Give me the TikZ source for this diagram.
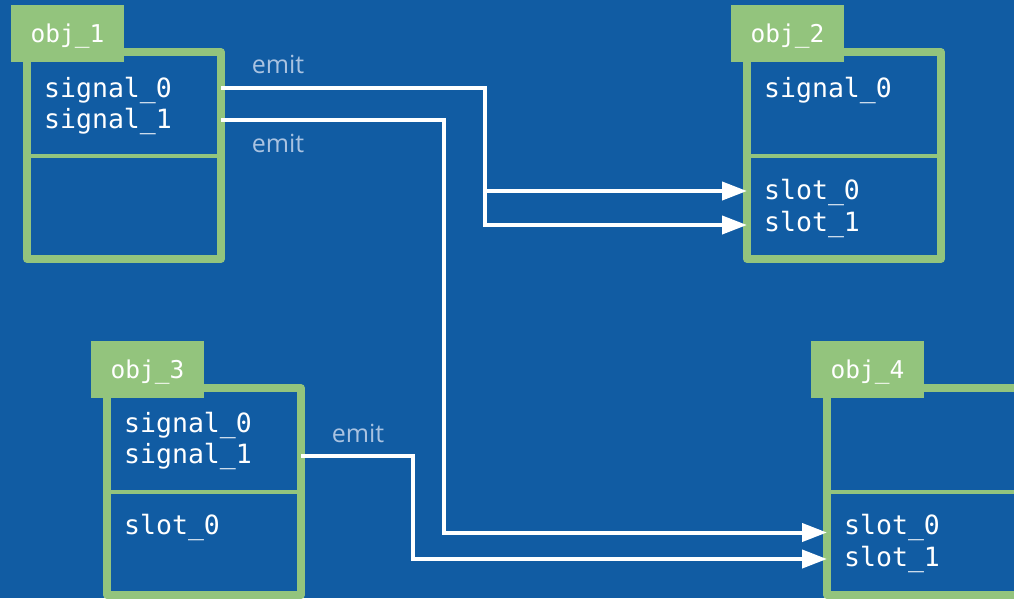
\documentclass[tikz,border=0pt]{standalone}
\usepackage{fontspec}
\setmonofont{DejaVu Sans Mono}
\newfontfamily\emitfont{Open Sans}
\usetikzlibrary{arrows.meta}
\definecolor{bg}{RGB}{17,92,163}
\definecolor{grn}{RGB}{147,196,125}
\definecolor{emitc}{RGB}{170,195,225}
\begin{document}
\begin{tikzpicture}[x=1pt,y=-1pt,
  objbox/.style={draw=grn, line width=7.5pt, line join=round, minimum width=194pt, minimum height=207pt, inner sep=0pt, outer sep=0pt},
  tagbox/.style={fill=grn, minimum width=113pt, minimum height=57pt, inner sep=0pt, outer sep=0pt, text=white, text height=17pt, text depth=0pt, font=\ttfamily\fontsize{24.5}{26}\selectfont},
  item/.style={anchor=base west, inner sep=0pt, text=white, font=\ttfamily\fontsize{26.5}{28}\selectfont},
  emitlbl/.style={anchor=base, inner sep=0pt, text=emitc, font=\emitfont\fontsize{25}{27}\selectfont},
  divider/.style={draw=grn, line width=4pt},
  wire/.style={draw=white, line width=4pt},
  arr/.style={wire, -{Triangle[length=25pt,width=18pt]}}
]
\useasboundingbox (0,0) rectangle (1014,598);
\clip (0,0) rectangle (1014,598);
\fill[bg] (0,0) rectangle (1014,598);

% obj_1
\node[objbox] (o1) at (124,155.5) {};
\draw[divider] (o1.west) -- (o1.east);
\node[tagbox] (t1) at (67.5,33.5) {obj\_1};
\node[item] (s10) at (44,97) {signal\_0};
\node[item] (s11) at (44,128) {signal\_1};

% obj_2
\node[objbox] (o2) at (844,155.5) {};
\draw[divider] (o2.west) -- (o2.east);
\node[tagbox] (t2) at (787.5,33.5) {obj\_2};
\node[item] (s20) at (764,97) {signal\_0};
\node[item] (sl20) at (764,199) {slot\_0};
\node[item] (sl21) at (764,231) {slot\_1};

% obj_3
\node[objbox] (o3) at (204,491.5) {};
\draw[divider] (o3.west) -- (o3.east);
\node[tagbox] (t3) at (147.5,369.5) {obj\_3};
\node[item] (s30) at (124,432) {signal\_0};
\node[item] (s31) at (124,463) {signal\_1};
\node[item] (sl30) at (124,534) {slot\_0};

% obj_4
\node[objbox] (o4) at (924,491.5) {};
\draw[divider] (o4.west) -- (o4.east);
\node[tagbox] (t4) at (867.5,369.5) {obj\_4};
\node[item] (sl40) at (844,534) {slot\_0};
\node[item] (sl41) at (844,566) {slot\_1};

% emit labels
\node[emitlbl] (e1) at (278,73) {emit};
\node[emitlbl] (e2) at (278,152) {emit};
\node[emitlbl] (e3) at (358,442) {emit};

% connectors
\coordinate (j1) at (484.7,0);
\coordinate (j2) at (443.7,0);
\coordinate (j3) at (412.7,0);
\draw[arr] (o1.east |- 0,88) -| (j1 |- 0,225) -- (o2.west |- 0,225);
\draw[arr] (j1 |- 0,191) -- (o2.west |- 0,191);
\draw[arr] (o1.east |- 0,120) -| (j2 |- 0,532.5) -- (o4.west |- 0,532.5);
\draw[arr] (o3.east |- 0,456) -| (j3 |- 0,559) -- (o4.west |- 0,559);
\end{tikzpicture}
\end{document}
